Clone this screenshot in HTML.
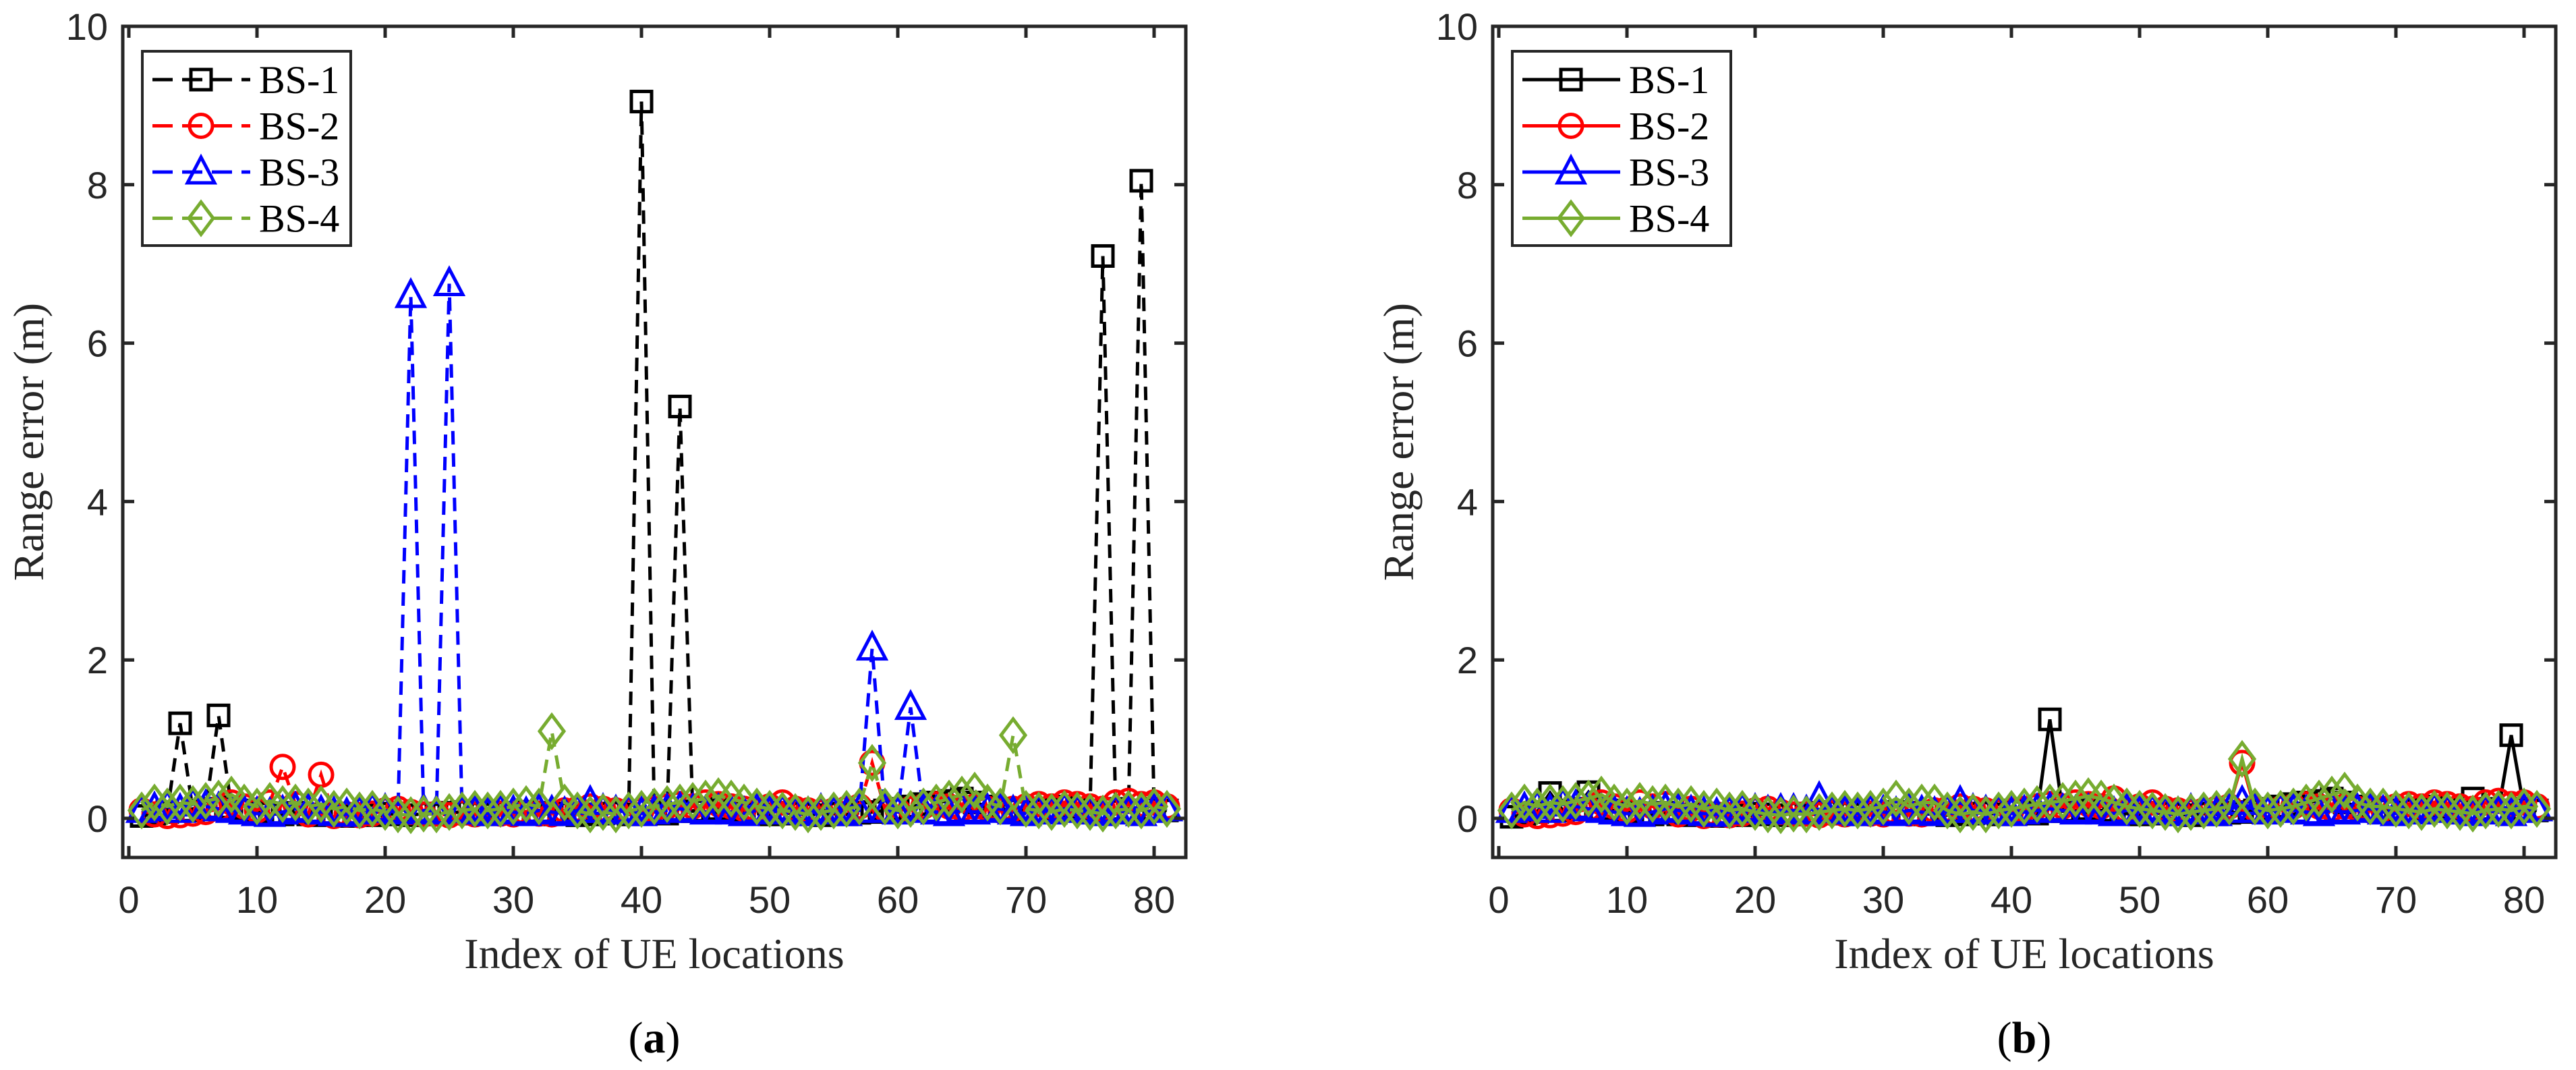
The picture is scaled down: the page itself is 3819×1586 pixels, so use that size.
<!DOCTYPE html>
<html><head><meta charset="utf-8"><style>
html,body{margin:0;padding:0;background:#fff;}
svg{display:block;}
</style></head><body>
<svg id="fig" width="3819" height="1586" viewBox="0 0 3819 1586" xmlns="http://www.w3.org/2000/svg"></svg>
<script>
const NS='http://www.w3.org/2000/svg';
const seriesNames=['BS-1','BS-2','BS-3','BS-4'];
const seriesColors=['#000000','#ff0000','#0000ff','#77ac30'];
const xTicks=[0,10,20,30,40,50,60,70,80];
const yTicks=[0,2,4,6,8,10];
const a1=[0.03,0.06,0.08,1.2,0.1,0.12,1.3,0.14,0.1,0.08,0.06,0.05,0.07,0.05,0.04,0.06,0.03,0.05,0.04,0.06,0.05,0.04,0.06,0.05,0.07,0.08,0.06,0.05,0.07,0.06,0.08,0.07,0.05,0.06,0.04,0.05,0.06,0.07,0.05,9.05,0.08,0.06,5.2,0.09,0.1,0.12,0.1,0.08,0.06,0.05,0.07,0.06,0.05,0.04,0.06,0.05,0.07,0.08,0.1,0.12,0.15,0.18,0.2,0.22,0.25,0.2,0.15,0.12,0.1,0.08,0.1,0.12,0.15,0.12,0.1,7.1,0.12,0.1,8.05,0.12,0.1];
const a2=[0.1,0.05,0.03,0.04,0.06,0.08,0.12,0.2,0.15,0.1,0.2,0.65,0.18,0.05,0.55,0.03,0.05,0.04,0.06,0.1,0.12,0.08,0.05,0.06,0.04,0.07,0.05,0.08,0.06,0.05,0.07,0.06,0.05,0.1,0.12,0.15,0.12,0.1,0.08,0.1,0.12,0.15,0.18,0.15,0.2,0.18,0.15,0.12,0.1,0.15,0.2,0.12,0.1,0.08,0.1,0.12,0.15,0.7,0.12,0.1,0.12,0.15,0.18,0.15,0.12,0.15,0.12,0.1,0.12,0.15,0.18,0.15,0.2,0.18,0.15,0.12,0.2,0.22,0.18,0.2,0.15];
const a3=[0.1,0.12,0.15,0.1,0.18,0.15,0.12,0.1,0.08,0.06,0.05,0.08,0.12,0.1,0.08,0.06,0.05,0.08,0.12,0.1,0.08,6.6,0.1,0.08,6.75,0.1,0.08,0.06,0.1,0.08,0.06,0.1,0.08,0.06,0.1,0.2,0.1,0.08,0.1,0.06,0.08,0.1,0.12,0.1,0.08,0.1,0.08,0.06,0.1,0.08,0.1,0.08,0.06,0.1,0.08,0.06,0.1,2.15,0.1,0.08,1.4,0.1,0.08,0.06,0.1,0.08,0.1,0.12,0.08,0.06,0.1,0.08,0.12,0.1,0.08,0.06,0.1,0.08,0.06,0.1,0.12];
const a4=[0.1,0.2,0.15,0.2,0.18,0.22,0.25,0.3,0.2,0.15,0.22,0.18,0.2,0.15,0.18,0.12,0.15,0.1,0.12,0.08,0.05,0.04,0.06,0.05,0.08,0.1,0.12,0.1,0.12,0.15,0.18,0.15,1.1,0.2,0.1,0.05,0.08,0.05,0.1,0.12,0.15,0.18,0.2,0.22,0.25,0.28,0.25,0.2,0.15,0.12,0.1,0.08,0.05,0.08,0.1,0.12,0.15,0.7,0.15,0.1,0.12,0.15,0.2,0.25,0.3,0.35,0.2,0.15,1.05,0.12,0.1,0.08,0.12,0.1,0.08,0.06,0.1,0.12,0.1,0.15,0.12];
const b1=[0.02,0.05,0.08,0.32,0.1,0.12,0.33,0.12,0.1,0.08,0.06,0.05,0.07,0.05,0.04,0.06,0.03,0.05,0.04,0.06,0.05,0.04,0.06,0.05,0.07,0.08,0.06,0.05,0.07,0.06,0.08,0.07,0.05,0.06,0.04,0.05,0.06,0.07,0.05,0.1,0.08,0.06,1.25,0.09,0.1,0.12,0.1,0.08,0.06,0.05,0.07,0.06,0.05,0.04,0.06,0.05,0.07,0.08,0.1,0.12,0.15,0.18,0.2,0.22,0.25,0.2,0.15,0.12,0.1,0.08,0.1,0.12,0.15,0.12,0.1,0.25,0.12,0.1,1.05,0.12,0.1];
const b2=[0.1,0.05,0.03,0.04,0.06,0.08,0.12,0.2,0.15,0.1,0.2,0.15,0.18,0.05,0.12,0.03,0.05,0.04,0.06,0.1,0.12,0.08,0.05,0.06,0.04,0.07,0.05,0.08,0.06,0.05,0.07,0.06,0.05,0.1,0.12,0.15,0.12,0.1,0.08,0.1,0.12,0.15,0.18,0.15,0.2,0.18,0.15,0.25,0.1,0.15,0.2,0.12,0.1,0.08,0.1,0.12,0.15,0.7,0.12,0.1,0.12,0.15,0.18,0.15,0.12,0.15,0.12,0.1,0.12,0.15,0.18,0.15,0.2,0.18,0.15,0.12,0.2,0.22,0.18,0.2,0.15];
const b3=[0.1,0.12,0.15,0.1,0.18,0.15,0.12,0.1,0.08,0.06,0.05,0.08,0.12,0.1,0.08,0.06,0.05,0.08,0.12,0.1,0.08,0.1,0.1,0.08,0.25,0.1,0.08,0.06,0.1,0.08,0.06,0.1,0.08,0.06,0.1,0.2,0.1,0.08,0.1,0.06,0.08,0.1,0.12,0.1,0.08,0.1,0.08,0.06,0.1,0.08,0.1,0.08,0.06,0.1,0.08,0.06,0.1,0.2,0.1,0.08,0.12,0.1,0.08,0.06,0.1,0.08,0.1,0.12,0.08,0.06,0.1,0.08,0.12,0.1,0.08,0.06,0.1,0.08,0.06,0.1,0.12];
const b4=[0.1,0.2,0.15,0.2,0.18,0.22,0.25,0.3,0.2,0.15,0.22,0.18,0.2,0.15,0.18,0.12,0.15,0.1,0.12,0.08,0.05,0.04,0.06,0.05,0.08,0.1,0.12,0.1,0.12,0.15,0.25,0.15,0.2,0.2,0.1,0.05,0.08,0.05,0.1,0.12,0.15,0.18,0.2,0.22,0.25,0.28,0.25,0.2,0.15,0.12,0.1,0.08,0.05,0.08,0.1,0.12,0.15,0.75,0.15,0.1,0.12,0.15,0.2,0.25,0.3,0.35,0.2,0.15,0.15,0.12,0.1,0.08,0.12,0.1,0.08,0.06,0.1,0.12,0.1,0.15,0.12];

const svg=document.getElementById('fig');
function mk(tag,attrs,parent){const e=document.createElementNS(NS,tag);for(const k in attrs)e.setAttribute(k,attrs[k]);(parent||svg).appendChild(e);return e;}

function marker(g,type,cx,cy,color){
  let e;
  if(type===0){e=mk('rect',{x:cx-15,y:cy-15,width:30,height:30,fill:'none',stroke:color,'stroke-width':5},g);}
  else if(type===1){e=mk('circle',{cx:cx,cy:cy,r:17,fill:'none',stroke:color,'stroke-width':5},g);}
  else if(type===2){e=mk('polygon',{points:`${cx},${cy-22} ${cx+20},${cy+16} ${cx-20},${cy+16}`,fill:'none',stroke:color,'stroke-width':5},g);}
  else {e=mk('polygon',{points:`${cx},${cy-24} ${cx+18},${cy} ${cx},${cy+24} ${cx-18},${cy}`,fill:'none',stroke:color,'stroke-width':5},g);}
  return e;
}

function drawPanel(ox,data,dashed,tag,legendW){
  const L=ox, R=ox+1576, T=39, B=1271;
  const x0=ox+9, ux=19.0;
  const xs=v=>x0+v*ux;
  const ys=v=>1213-v*117.4;
  const g=mk('g',{});
  
  
  // series
  data.forEach((arr,si)=>{
    const sg=mk('g',{},g);
    
    
    const pts=arr.map((v,i)=>xs(i+1).toFixed(1)+','+ys(v).toFixed(1)).join(' ');
    const pl=mk('polyline',{points:pts,fill:'none',stroke:seriesColors[si],'stroke-width':5,'stroke-dasharray':dashed?'20,13':'none'},sg);
    
    
    arr.forEach((v,i)=>{
      const m=marker(sg,si,xs(i+1),ys(v),seriesColors[si]);
      
      
    });
  });
  // axes box
  const box=mk('rect',{x:L,y:T,width:R-L,height:B-T,fill:'none',stroke:'#262626','stroke-width':5},g);
  
  
  xTicks.forEach(t=>{
    const x=xs(t);
    mk('line',{x1:x,y1:B,x2:x,y2:B-17,stroke:'#262626','stroke-width':5},g);
    mk('line',{x1:x,y1:T,x2:x,y2:T+17,stroke:'#262626','stroke-width':5},g);
    const tx=mk('text',{x:x,y:1353,'text-anchor':'middle','font-family':'Liberation Sans, sans-serif','font-size':56,fill:'#262626'},g);
    tx.textContent=t;
    
    
  });
  yTicks.forEach(t=>{
    const y=ys(t);
    mk('line',{x1:L,y1:y,x2:L+17,y2:y,stroke:'#262626','stroke-width':5},g);
    mk('line',{x1:R,y1:y,x2:R-17,y2:y,stroke:'#262626','stroke-width':5},g);
    const ty=mk('text',{x:L-22,y:y+20,'text-anchor':'end','font-family':'Liberation Sans, sans-serif','font-size':56,fill:'#262626'},g);
    ty.textContent=t;
    
    
  });
  const xl=mk('text',{x:(L+R)/2,y:1435,'text-anchor':'middle','font-family':'Liberation Serif, serif','font-size':64,fill:'#262626'},g);
  xl.textContent='Index of UE locations';
  
  
  const yl=mk('text',{x:0,y:0,transform:`translate(${L-118},${(T+B)/2}) rotate(-90)`,'text-anchor':'middle','font-family':'Liberation Serif, serif','font-size':64,fill:'#262626'},g);
  yl.textContent='Range error (m)';
  
  
  const cap=mk('text',{x:(L+R)/2,y:1560,'text-anchor':'middle','font-family':'Liberation Serif, serif','font-size':66,fill:'#000'},g);
  cap.innerHTML='(<tspan font-weight="bold">'+tag+'</tspan>)';
  
  
  // legend
  const lg=mk('g',{},g);
  
  
  const lx=L+29, ly=76;
  mk('rect',{x:lx,y:ly,width:legendW,height:288,fill:'#fff',stroke:'#262626','stroke-width':4},lg);
  seriesNames.forEach((n,si)=>{
    const y=118+si*68.5;
    const eg=mk('g',{},lg);
    
    
    mk('line',{x1:lx+15,y1:y,x2:lx+160,y2:y,stroke:seriesColors[si],'stroke-width':5,'stroke-dasharray':dashed?'30,14':'none'},eg);
    marker(eg,si,lx+87,y,seriesColors[si]);
    const t=mk('text',{x:lx+173,y:y+20,'font-family':'Liberation Serif, serif','font-size':58,fill:'#000'},eg);
    t.textContent=n;
  });
}
drawPanel(182,[a1,a2,a3,a4],true,'a',309);
drawPanel(2213,[b1,b2,b3,b4],false,'b',324);
</script>
</body></html>
